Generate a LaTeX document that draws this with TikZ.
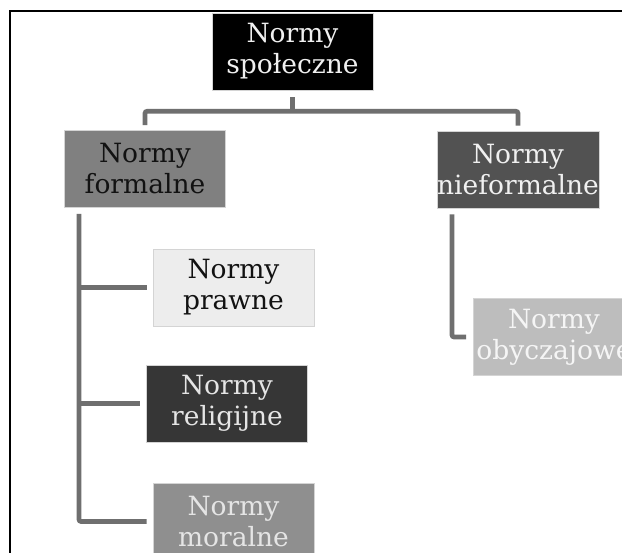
\documentclass[tikz,border=0pt]{standalone}
\usepackage{fontspec}
\setmainfont{DejaVu Serif}
\usepackage{xcolor}
\usepackage{tikz}
\usetikzlibrary{calc}
\definecolor{connGray}{HTML}{6F6F6F}
\definecolor{edgeGray}{HTML}{D4D4D4}

\begin{document}
\begin{tikzpicture}[x=1pt, y=-1pt,
    box/.style={rectangle, draw=edgeGray, line width=0.6pt, inner sep=0pt,
                minimum width=161pt, minimum height=77pt, align=center,
                font=\fontsize{26.5}{31}\selectfont},
    conn/.style={draw=connGray, line width=4.6pt, rounded corners=2pt}]
      \useasboundingbox (0,0) rectangle (622,553);
      \clip (0,0) rectangle (622,553);
      \fill[white] (0,0) rectangle (622,553);

      \node[box, fill=black, text=white!94!black](Spol) at (292.5, 51.5) {Normy\\społeczne};
        \node[box, fill=black!50, text=black!93](Form) at (145, 169) {Normy\\formalne};
          \node[box, fill=black!7, text=black!93](Prawne) at (233.5, 287.5) {Normy\\prawne};
          \node[box, fill=black!79, text=white!90!black](Relig) at (227, 403.5) {Normy\\religijne};
          \node[box, fill=black!44, text=white!90!black](Moral) at (233.5, 521.5) {Normy\\moralne};
        \node[box, fill=black!68, text=white!94!black](Nieform) at (518, 169.5) {Normy\\nieformalne};
          \node[box, fill=black!26, text=white!96!black](Obycz) at (554, 337) {Normy\\obyczajowe};

      \coordinate(Bar) at ([yshift=-21pt]Spol.south);
      \coordinate(FormTrunk) at ([xshift=-66pt, yshift=-6pt]Form.south);
      \coordinate(NieTrunk) at ([xshift=-66pt, yshift=-6pt]Nieform.south);

      \draw[conn] ([yshift=-7pt]Spol.south) -- (Bar);
      \draw[conn] ([yshift=5pt]Form.north) |- (Bar) -| ([yshift=5pt]Nieform.north);
      \draw[conn] (FormTrunk) |- ([xshift=-6pt]Moral.west);
      \draw[conn] (FormTrunk |- Prawne.west) -- ([xshift=-6pt]Prawne.west);
      \draw[conn] (FormTrunk |- Relig.west) -- ([xshift=-6pt]Relig.west);
      \draw[conn] (NieTrunk) |- ([xshift=-7pt]Obycz.west);

      \draw[black, line width=1.5pt] (10,553) -- (10,11) -- (622,11);
    \end{tikzpicture}
\end{document}
